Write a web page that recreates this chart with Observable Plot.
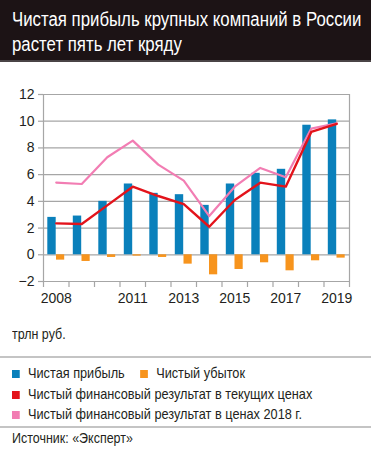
<!DOCTYPE html>
<html><head><meta charset="utf-8">
<script src="https://cdn.jsdelivr.net/npm/d3@7"></script>
<script src="https://cdn.jsdelivr.net/npm/@observablehq/plot@0.6"></script>
<style>
html,body{margin:0;padding:0;background:#fff;}
#wrap{position:relative;width:371px;height:451px;overflow:hidden;font-family:"Liberation Sans",Arial,sans-serif;color:#231f20;}
#title{position:absolute;left:0;top:0;width:371px;height:62px;background:#1c1315;border-bottom:2px solid #4a4446;box-sizing:border-box;}
#title div{position:absolute;left:12px;top:7px;color:#fff;font-size:20px;line-height:25px;white-space:nowrap;transform:scaleX(0.84);transform-origin:0 0;}
#chart{position:absolute;left:0;top:62px;}
.txt{position:absolute;left:12px;font-size:14.5px;line-height:18px;white-space:nowrap;transform:scaleX(0.86);transform-origin:0 0;}
.leg{font-size:14.8px;}
.hr{position:absolute;left:0;width:371px;height:2px;background:#c4c4c4;}
.sw{display:inline-block;width:9.3px;height:8px;margin-right:9.3px;vertical-align:0px;}
</style></head>
<body>
<div id="wrap">
  <div id="title"><div>Чистая прибыль крупных компаний в России<br>растет пять лет кряду</div></div>
  <div id="chart"></div>
  <div class="txt" style="top:325px">трлн руб.</div>
  <div class="hr" style="top:356px"></div>
  <div class="txt leg" style="top:364px"><span class="sw" style="background:#0a80bb"></span>Чистая прибыль<span class="sw" style="background:#f7941d;margin-left:18px"></span>Чистый убыток</div>
  <div class="txt leg" style="top:385px"><span class="sw" style="background:#e3131b"></span>Чистый финансовый результат в текущих ценах</div>
  <div class="txt leg" style="top:405px"><span class="sw" style="background:#f27db3"></span>Чистый финансовый результат в ценах 2018 г.</div>
  <div class="hr" style="top:426px"></div>
  <div class="txt" style="top:429px">Источник: «Эксперт»</div>
</div>
<script>
const years = [2008, 2009, 2010, 2011, 2012, 2013, 2014, 2015, 2016, 2017, 2018, 2019];
const netProfit = [2.8, 2.9, 4.0, 5.3, 4.6, 4.5, 3.7, 5.3, 6.1, 6.4, 9.7, 10.1];
const netLoss = [-0.4, -0.5, -0.2, -0.1, -0.2, -0.7, -1.5, -1.1, -0.6, -1.2, -0.45, -0.25];
const resultCurrent = [2.35, 2.3, 3.7, 5.1, 4.4, 3.8, 2.1, 4.1, 5.4, 5.1, 9.2, 9.8];
const result2018 = [5.4, 5.3, 7.3, 8.55, 6.75, 5.55, 2.9, 5.1, 6.5, 5.8, 9.45, 9.85];
const yTicks = [-2, 0, 2, 4, 6, 8, 10, 12];
const xLabels = [2008, 2011, 2013, 2015, 2017, 2019];

const data = years.map((year, i) => ({
  year, profit: netProfit[i], loss: netLoss[i], cur: resultCurrent[i], real: result2018[i]
}));
const edges = years.map(y => y - 0.5).concat([years[years.length - 1] + 0.5]);

const plot = Plot.plot({
  width: 371,
  height: 250,
  marginTop: 32,
  marginBottom: 31,
  marginLeft: 43,
  marginRight: 22,
  style: {fontFamily: "'Liberation Sans', Arial, sans-serif", fontSize: "14px", color: "#231f20", background: "transparent"},
  x: {domain: [edges[0], edges[edges.length - 1]]},
  y: {domain: [-2, 12]},
  marks: [
    Plot.gridY(yTicks, {stroke: "#a6a6a6", strokeOpacity: 1, strokeWidth: 1.2}),
    Plot.axisY({ticks: yTicks, tickSize: 5, tickPadding: 4, stroke: "#a6a6a6", strokeWidth: 1.2, label: null, tickFormat: "d", fill: "#231f20"}),
    Plot.ruleX([edges[0], edges[edges.length - 1]], {stroke: "#a6a6a6", strokeWidth: 1.2}),
    Plot.ruleY([-2], {stroke: "#a6a6a6", strokeWidth: 1.2}),
    Plot.axisX({ticks: edges, tickSize: 6, tickFormat: () => "", stroke: "#a6a6a6", strokeWidth: 1.2, label: null}),
    Plot.axisX({ticks: xLabels, tickSize: 0, tickPadding: 12, tickFormat: "d", label: null, fill: "#231f20"}),
    Plot.rectY(data, {x1: d => d.year - 0.5, x2: d => d.year + 0.5, y: "profit", insetLeft: 4.3, insetRight: 12.8, fill: "#0a80bb"}),
    Plot.rectY(data, {x1: d => d.year - 0.5, x2: d => d.year + 0.5, y: "loss", insetLeft: 13, insetRight: 4.3, fill: "#f7941d"}),
    Plot.line(data, {x: "year", y: "real", stroke: "#f27db3", strokeWidth: 2.2}),
    Plot.line(data, {x: "year", y: "cur", stroke: "#e3131b", strokeWidth: 2.4})
  ]
});
document.getElementById("chart").appendChild(plot);
</script>
</body></html>
